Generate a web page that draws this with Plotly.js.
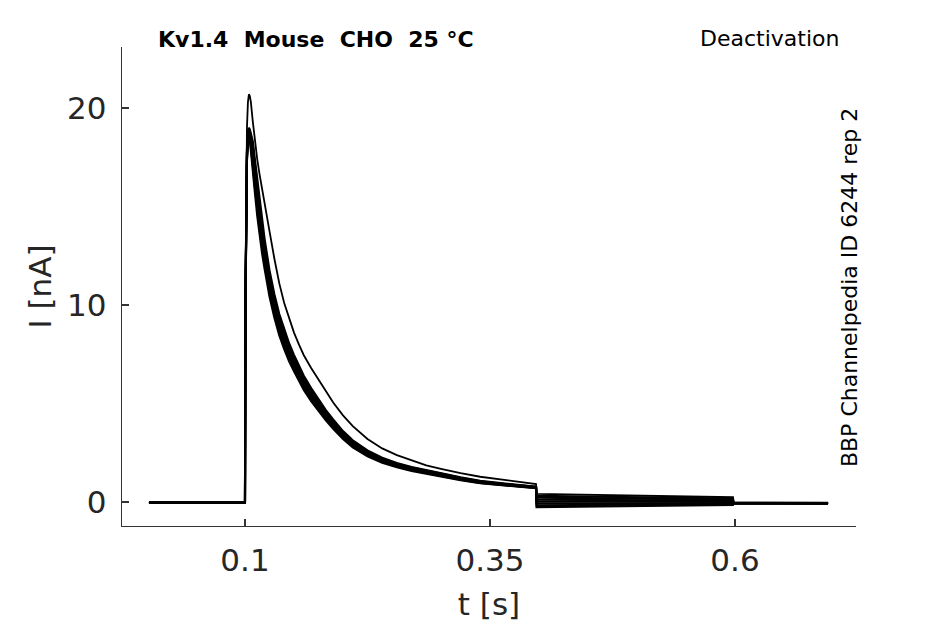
<!DOCTYPE html>
<html>
<head>
<meta charset="utf-8">
<script src="https://cdn.plot.ly/plotly-3.0.1.min.js"></script>
<style>html,body{margin:0;padding:0;background:#fff;}#chart{width:945px;height:624px;}</style>
</head>
<body>
<div id="chart"></div>
<script>
// time samples [s]
var timeS = [0.002, 0.0995, 0.1, 0.1005, 0.101, 0.102, 0.103, 0.104, 0.105, 0.106, 0.108, 0.11, 0.1125, 0.115, 0.1175, 0.12, 0.125, 0.13, 0.135, 0.14, 0.145, 0.15, 0.155, 0.16, 0.1675, 0.175, 0.1825, 0.19, 0.2, 0.21, 0.225, 0.24, 0.255, 0.27, 0.285, 0.3, 0.32, 0.34, 0.37, 0.397, 0.3975, 0.45, 0.5, 0.55, 0.598, 0.5985, 0.695];

// current sweeps [nA]
var sweep1 = [-0.03, -0.03, -0.03, 10.0, 16.0, 19.0, 20.3, 20.7, 20.6, 20.3, 19.3, 18.4, 17.4, 16.6, 15.85, 15.15, 13.75, 12.35, 11.1, 10.1, 9.3, 8.6, 8.0, 7.45, 6.8, 6.2, 5.6, 5.05, 4.4, 3.85, 3.2, 2.72, 2.38, 2.1, 1.86, 1.68, 1.46, 1.28, 1.07, 0.91, 0.41, 0.36, 0.31, 0.27, 0.24, -0.03, -0.04];
var sweep2 = [-0.02, -0.02, -0.02, 10.4, 15.4, 17.9, 18.8, 19.0, 18.9, 18.7, 18.3, 17.45, 16.38, 15.21, 14.2, 13.36, 11.77, 10.55, 9.54, 8.75, 8.06, 7.47, 6.94, 6.41, 5.78, 5.19, 4.66, 4.19, 3.6, 3.13, 2.62, 2.25, 1.98, 1.78, 1.61, 1.46, 1.25, 1.07, 0.91, 0.78, 0.31, 0.27, 0.24, 0.21, 0.18, -0.04, -0.05];
var sweep3 = [-0.04, -0.04, -0.04, 10.3, 15.3, 17.8, 18.7, 18.95, 18.8, 18.6, 18.13, 17.18, 16.07, 14.92, 13.94, 13.1, 11.54, 10.35, 9.36, 8.58, 7.9, 7.33, 6.81, 6.29, 5.67, 5.1, 4.58, 4.11, 3.54, 3.07, 2.57, 2.2, 1.94, 1.75, 1.58, 1.44, 1.23, 1.05, 0.89, 0.77, 0.22, 0.19, 0.16, 0.14, 0.12, -0.05, -0.06];
var sweep4 = [-0.03, -0.03, -0.03, 10.25, 15.2, 17.7, 18.6, 18.9, 18.72, 18.48, 17.86, 16.9, 15.76, 14.64, 13.67, 12.85, 11.32, 10.15, 9.18, 8.42, 7.75, 7.19, 6.68, 6.17, 5.56, 5.0, 4.49, 4.03, 3.47, 3.01, 2.52, 2.16, 1.91, 1.71, 1.55, 1.41, 1.2, 1.03, 0.88, 0.755, 0.12, 0.10, 0.09, 0.07, 0.06, -0.06, -0.07];
var sweep5 = [-0.05, -0.05, -0.05, 10.2, 15.1, 17.6, 18.5, 18.8, 18.65, 18.35, 17.6, 16.6, 15.45, 14.35, 13.4, 12.6, 11.1, 9.95, 9.0, 8.25, 7.6, 7.05, 6.55, 6.05, 5.45, 4.9, 4.4, 3.95, 3.4, 2.95, 2.47, 2.12, 1.87, 1.68, 1.52, 1.38, 1.18, 1.01, 0.86, 0.74, 0.03, 0.02, 0.01, 0.01, 0.0, -0.07, -0.08];
var sweep6 = [-0.04, -0.04, -0.04, 10.1, 15.0, 17.5, 18.4, 18.7, 18.55, 18.2, 17.34, 16.3, 15.14, 14.06, 13.13, 12.35, 10.88, 9.75, 8.82, 8.09, 7.45, 6.91, 6.42, 5.93, 5.34, 4.8, 4.31, 3.87, 3.33, 2.89, 2.42, 2.08, 1.83, 1.65, 1.49, 1.35, 1.16, 0.99, 0.84, 0.725, -0.07, -0.07, -0.06, -0.05, -0.05, -0.05, -0.06];
var sweep7 = [-0.03, -0.03, -0.03, 10.0, 14.9, 17.4, 18.3, 18.6, 18.45, 18.05, 17.07, 16.02, 14.83, 13.78, 12.86, 12.1, 10.66, 9.55, 8.64, 7.92, 7.3, 6.77, 6.29, 5.81, 5.23, 4.7, 4.22, 3.79, 3.26, 2.83, 2.37, 2.04, 1.8, 1.61, 1.46, 1.32, 1.13, 0.97, 0.83, 0.71, -0.17, -0.15, -0.13, -0.11, -0.10, -0.06, -0.07];
var sweep8 = [-0.04, -0.04, -0.04, 9.9, 14.8, 17.3, 18.2, 18.5, 18.35, 17.9, 16.9, 15.77, 14.52, 13.49, 12.6, 11.84, 10.43, 9.35, 8.46, 7.76, 7.14, 6.63, 6.16, 5.69, 5.12, 4.61, 4.14, 3.71, 3.2, 2.77, 2.32, 1.99, 1.76, 1.58, 1.43, 1.3, 1.11, 0.95, 0.81, 0.7, -0.26, -0.23, -0.20, -0.17, -0.15, -0.08, -0.09];

var sweeps = [sweep1, sweep2, sweep3, sweep4, sweep5, sweep6, sweep7, sweep8];

var xTicks = [0.1, 0.35, 0.6];
var xTickText = ['0.1', '0.35', '0.6'];
var yTicks = [0, 10, 20];
var yTickText = ['0', '10', '20'];

var traces = sweeps.map(function (s, i) {
  return {
    x: timeS, y: s, type: 'scatter', mode: 'lines',
    line: {color: '#000000', width: i === 0 ? 1.8 : 2.1},
    hoverinfo: 'skip', showlegend: false
  };
});

var tickFont = {family: 'DejaVu Sans', size: 31, color: '#262626'};

var layout = {
  width: 945, height: 624,
  paper_bgcolor: '#ffffff', plot_bgcolor: '#ffffff',
  margin: {l: 122, r: 89, t: 47, b: 98, pad: 0},
  showlegend: false,
  xaxis: {
    range: [-0.0255, 0.7235], tickvals: xTicks, ticktext: xTickText,
    ticks: 'inside', ticklen: 7, tickwidth: 1.3, tickcolor: '#333333',
    showline: true, linecolor: '#333333', linewidth: 1.3,
    showgrid: false, zeroline: false, tickfont: tickFont,
    ticklabelstandoff: 6,
    title: {text: 't [s]', font: tickFont, standoff: 16}
  },
  yaxis: {
    range: [-1.22, 23.1], tickvals: yTicks, ticktext: yTickText,
    ticks: 'inside', ticklen: 7, tickwidth: 1.3, tickcolor: '#333333',
    showline: true, linecolor: '#333333', linewidth: 1.3,
    showgrid: false, zeroline: false, tickfont: tickFont,
    ticklabelstandoff: 8,
    title: {text: 'I [nA]', font: tickFont, standoff: 6}
  },
  annotations: [
    {text: '<b>Kv1.4  Mouse  CHO  25 °C</b>', xref: 'paper', yref: 'paper',
     x: 0.047, y: 1.0167, xanchor: 'left', yanchor: 'middle', showarrow: false,
     font: {family: 'DejaVu Sans', size: 22, color: '#000000'}},
    {text: 'Deactivation', xref: 'paper', yref: 'paper',
     x: 0.98, y: 1.0187, xanchor: 'right', yanchor: 'middle', showarrow: false,
     font: {family: 'DejaVu Sans', size: 22, color: '#000000'}},
    {text: 'BBP Channelpedia ID 6244 rep 2', xref: 'paper', yref: 'paper',
     x: 0.992, y: 0.497, xanchor: 'center', yanchor: 'middle', textangle: -90, showarrow: false,
     font: {family: 'DejaVu Sans', size: 22, color: '#000000'}}
  ]
};

Plotly.newPlot('chart', traces, layout, {displayModeBar: false, staticPlot: true});
</script>
</body>
</html>
